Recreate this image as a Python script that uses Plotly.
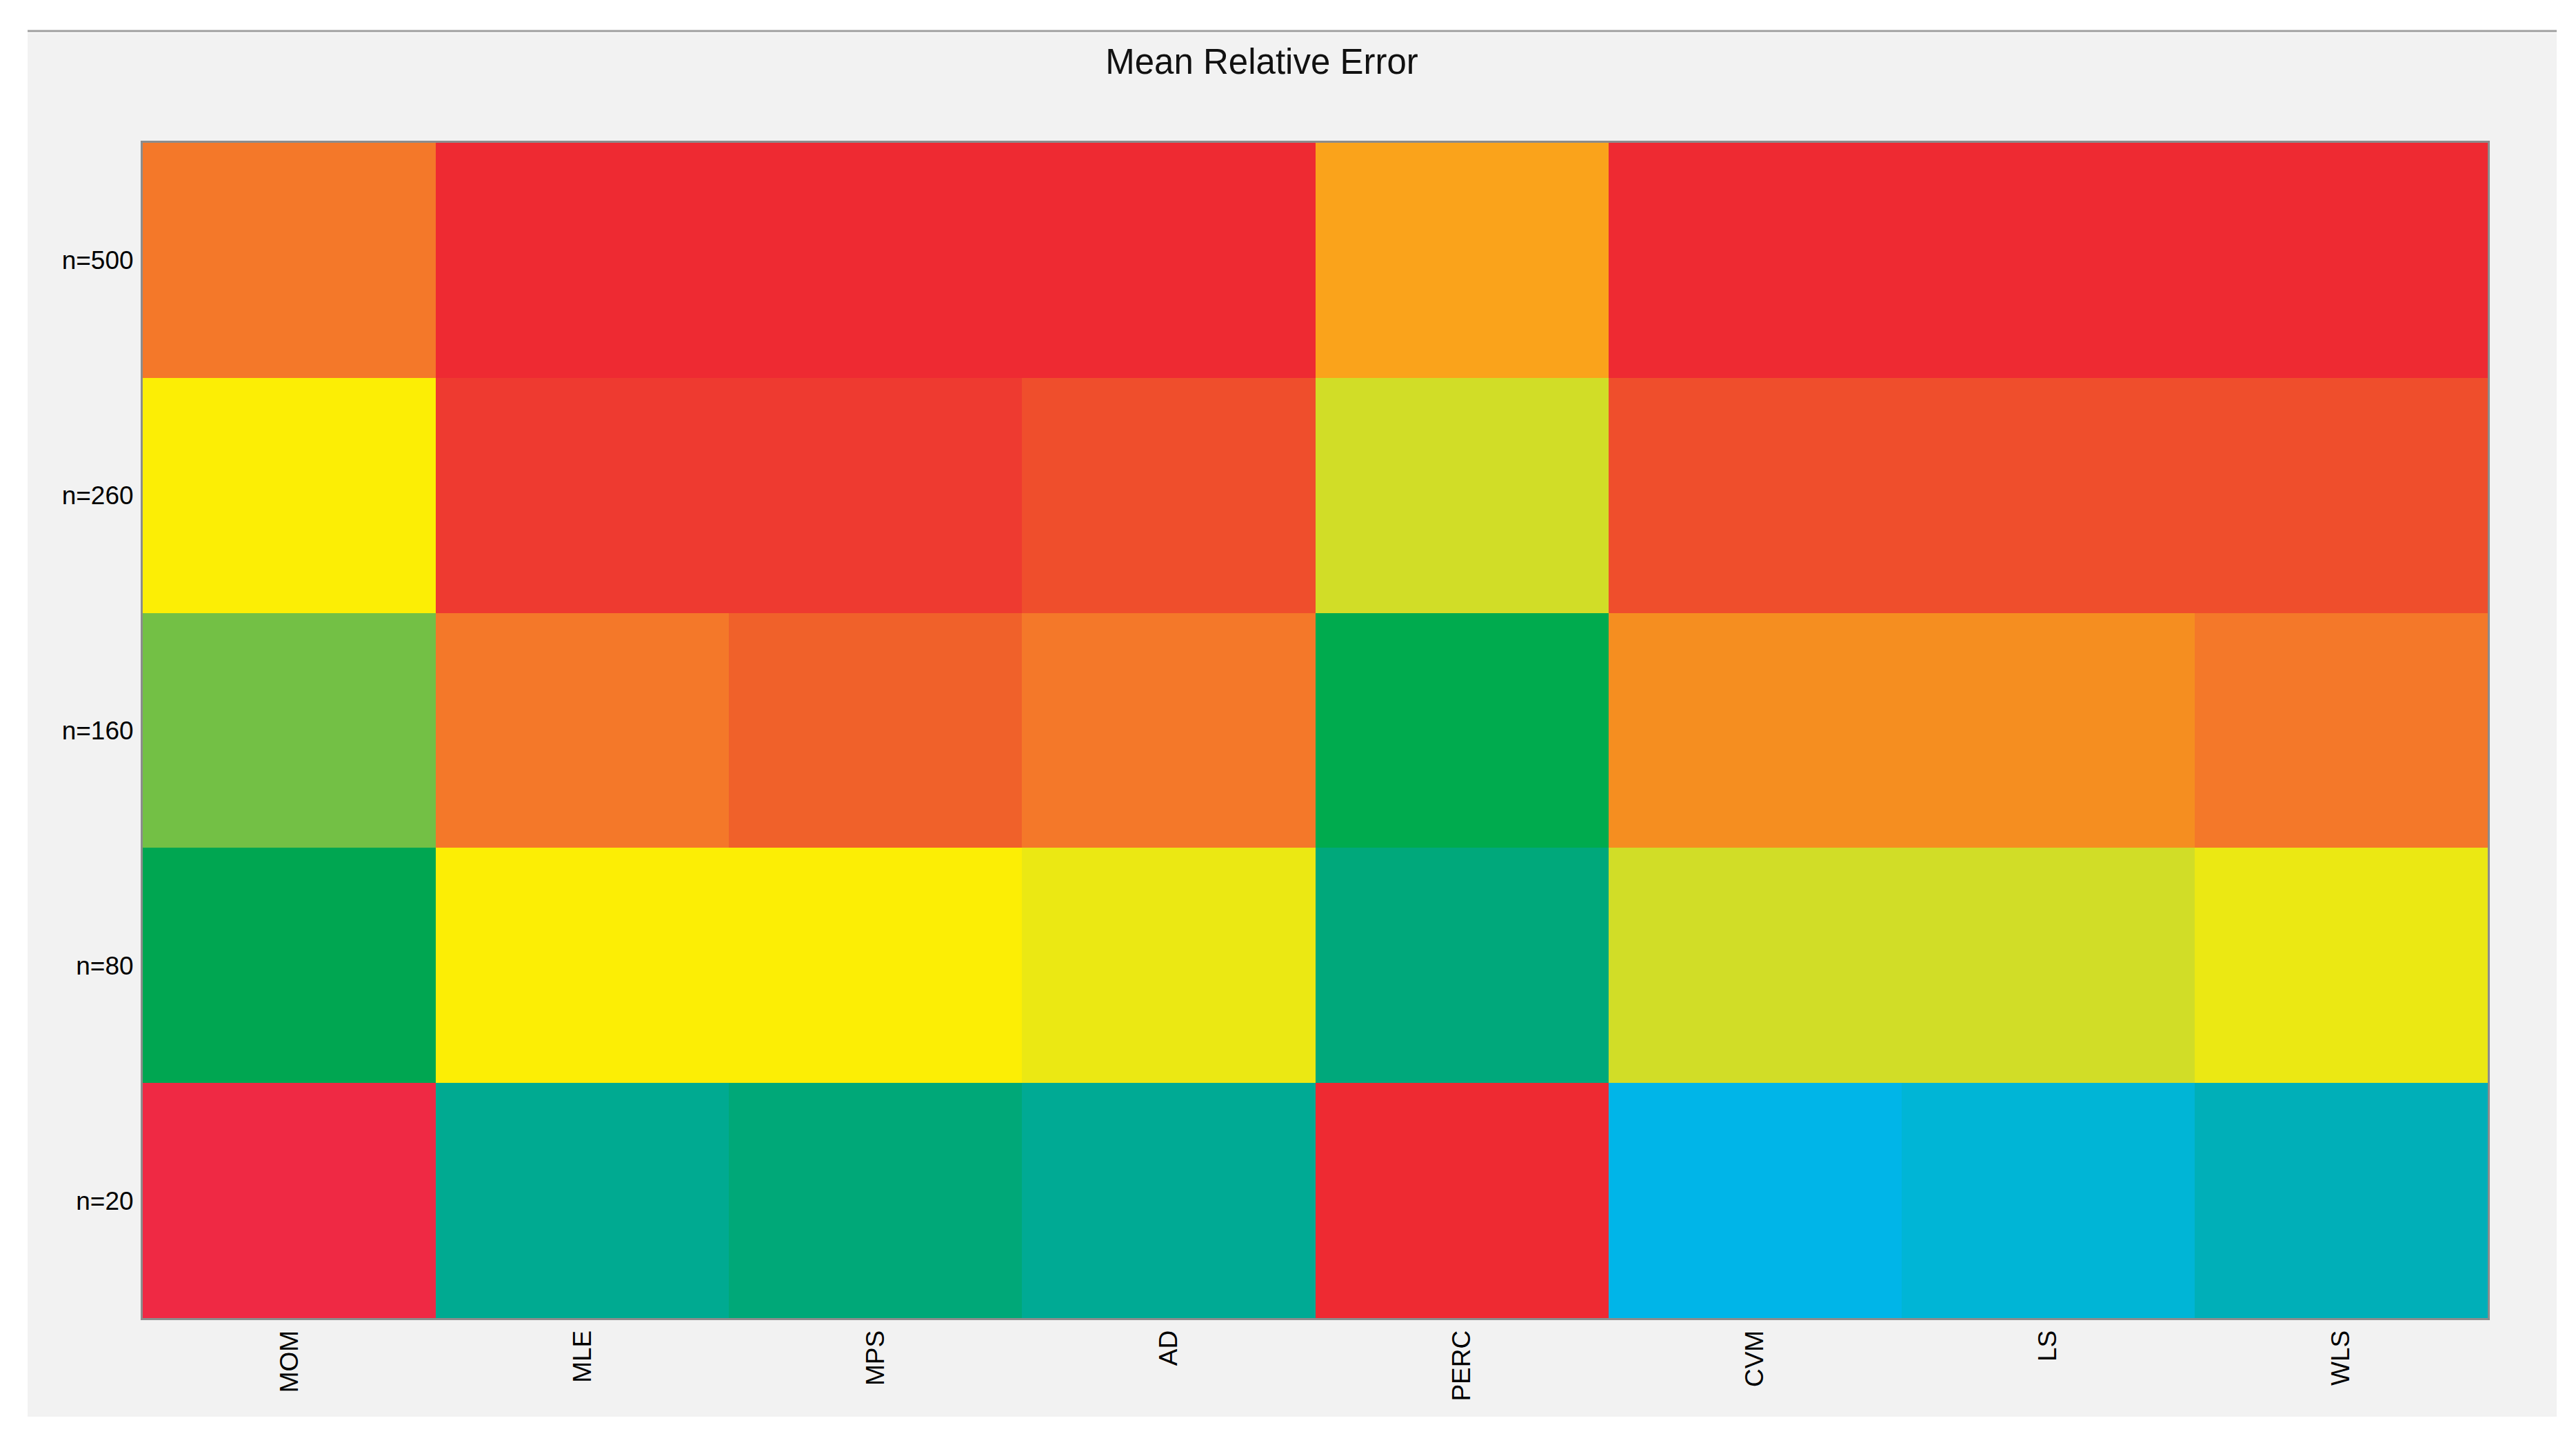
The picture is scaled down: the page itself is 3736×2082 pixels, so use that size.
import plotly.graph_objects as go

# ---- data ----
methods = ["MOM", "MLE", "MPS", "AD", "PERC", "CVM", "LS", "WLS"]
sample_sizes = ["n=500", "n=260", "n=160", "n=80", "n=20"]

# relative error level of each cell (0 = lowest error, 20 = highest), estimated from colour
err_n500 = [15, 19, 19, 19, 13, 19, 19, 19]
err_n260 = [12, 18, 18, 17, 10, 17, 17, 17]
err_n160 = [9, 15, 16, 15, 8, 14, 14, 15]
err_n80 = [7, 12, 12, 11, 5, 10, 10, 11]
err_n20 = [20, 4, 6, 3, 19, 0, 1, 2]

# colour of each error level, low -> high
level_colors = ["#00B5E8", "#00B5D6", "#00AFB8", "#00AA94", "#00AA91", "#00A87B",
                "#00A878", "#00A651", "#00AB4E", "#73C045", "#D1DD27", "#EBE813",
                "#FCEE05", "#FAA31B", "#F58E20", "#F47829", "#F0612A", "#EF4E2C",
                "#EE3A30", "#EE2A32", "#EF2944"]

z = [err_n500, err_n260, err_n160, err_n80, err_n20]
nlev = len(level_colors) - 1
colorscale = [[i / nlev, c] for i, c in enumerate(level_colors)]

W, H = 3736, 2082
OFF = 8  # page body offset
# target pixel positions on the page
PL, PR, PT, PB = 207, 3608, 207, 1911
L = PL - OFF
T = PT - OFF
R = W - (PR - OFF)
B = H - (PB - OFF)
pw, ph = W - L - R, H - T - B

def px_x(x):
    return (x - OFF - L) / pw

def px_y(y):
    return (H - B - (y - OFF)) / ph

fig = go.Figure(go.Heatmap(
    z=z, x=methods, y=sample_sizes,
    colorscale=colorscale, zmin=0, zmax=nlev,
    showscale=False, xgap=0, ygap=0,
))

font = "Liberation Sans, Arial, sans-serif"

fig.update_layout(
    width=W, height=H,
    margin=dict(l=L, r=R, t=T, b=B, pad=0),
    paper_bgcolor="white",
    plot_bgcolor="#f2f2f2",
    title=dict(text="Mean Relative Error", x=(1830 - OFF) / W, xanchor="center",
               y=1 - (89 - OFF) / H, yanchor="middle",
               font=dict(family=font, size=51, color="#111111")),
    xaxis=dict(tickangle=-90, tickfont=dict(family=font, size=37, color="black"),
               showline=True, linecolor="#8c8c8c", linewidth=3, mirror=True,
               ticks="", showgrid=False, zeroline=False, ticklabelstandoff=0),
    yaxis=dict(autorange="reversed", tickfont=dict(family=font, size=37, color="black"),
               showline=True, linecolor="#8c8c8c", linewidth=3, mirror=True,
               ticks="", showgrid=False, zeroline=False, ticklabelstandoff=3),
    shapes=[
        dict(type="rect", xref="paper", yref="paper", layer="below",
             x0=px_x(40), x1=px_x(3708), y0=px_y(2054), y1=px_y(48),
             fillcolor="#f2f2f2", line=dict(width=0)),
        dict(type="line", xref="paper", yref="paper", layer="below",
             x0=px_x(40), x1=px_x(3708), y0=px_y(45), y1=px_y(45),
             line=dict(color="#a0a0a0", width=3)),
    ],
)

fig.write_html("out.html")
